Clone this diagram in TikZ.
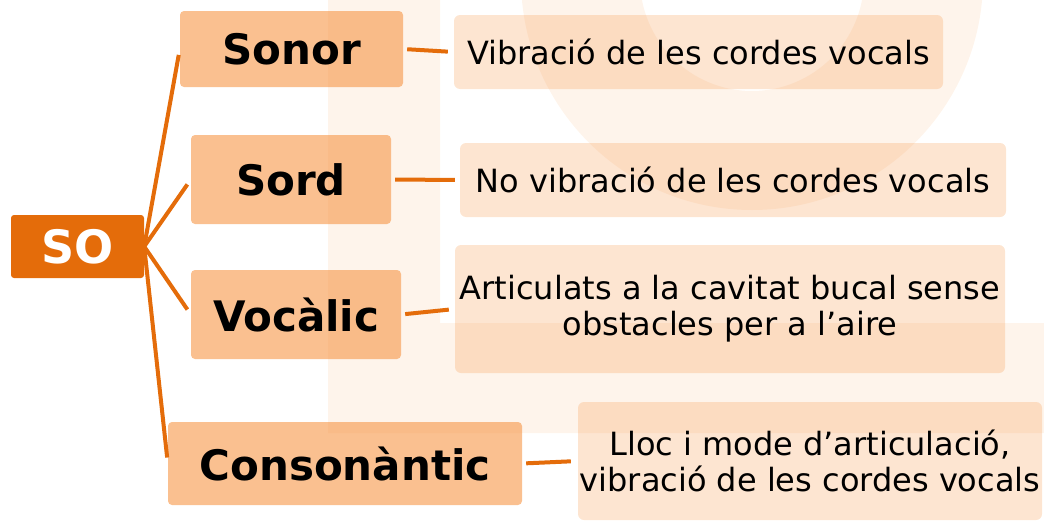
\documentclass[tikz,border=0pt]{standalone}
\usepackage{fontspec}
\setmainfont{DejaVu Sans}
\definecolor{taronja}{HTML}{E46C0A}
\definecolor{pell}{HTML}{F79646}
\tikzset{
  sobox/.style={fill=taronja, rounded corners=3pt, inner sep=0pt, text=white,
    font=\bfseries\fontsize{46}{50}\selectfont},
  tipus/.style={fill=pell, fill opacity=0.6, text opacity=1, rounded corners=4pt,
    inner sep=0pt, font=\bfseries\fontsize{42}{50}\selectfont},
  descr/.style={fill=pell, fill opacity=0.25, text opacity=1, rounded corners=6pt,
    inner sep=0pt, align=center, font=\fontsize{32}{36}\selectfont},
  branca/.style={draw=taronja, line width=4pt}
}
\begin{document}
\begin{tikzpicture}[x=1pt, y=-1pt]
      \useasboundingbox (0,0) rectangle (1044,522);
      \clip (0,0) rectangle (1044,522);

      % Watermark
      \fill[pell!11] (328,0) -- (440,0) -- (440,323) -- (1044,323) -- (1044,433) -- (328,433) -- cycle;
      \fill[pell!11, even odd rule] (752,-21) circle (231) (752,-21) circle (112);

      % Root
      \node[sobox, minimum width=133pt, minimum height=63pt] (so) at (77.5,246.5) {SO};

      % Types
      \node[tipus, minimum width=223pt, minimum height=76pt] (sonor) at (291.5,49) {Sonor};
      \node[tipus, minimum width=200pt, minimum height=89pt] (sord) at (291,179.5) {Sord};
      \node[tipus, minimum width=210pt, minimum height=89pt] (vocalic) at (296,314.5) {Vocàlic};
      \node[tipus, minimum width=354pt, minimum height=83pt] (consonantic) at (345,463.5) {Consonàntic};

      % Descriptions
      \node[descr, minimum width=489pt, minimum height=74pt] (dsonor) at (698.5,52) {Vibració de les cordes vocals};
      \node[descr, minimum width=546pt, minimum height=74pt] (dsord) at (733,180) {No vibració de les cordes vocals};
      \node[descr, minimum width=550pt, minimum height=128pt] (dvocalic) at (730,309) {Articulats a la cavitat bucal sense\\obstacles per a l’aire};
      \node[descr, minimum width=464pt, minimum height=118pt] (dconsonantic) at (810,461) {Lloc i mode d’articulació,\\vibració de les cordes vocals};

      % Branches
      \draw[branca, shorten >=6pt] (so.east) -- (sonor.west);
      \draw[branca, shorten >=6pt] (so.east) -- (sord.west);
      \draw[branca, shorten >=6pt] (so.east) -- (vocalic.west);
      \draw[branca, shorten >=6pt] (so.east) -- (consonantic.west);

      \draw[branca, shorten <=4pt, shorten >=6pt] (sonor.east) -- (dsonor.west);
      \draw[branca, shorten <=4pt, shorten >=5pt] (sord.east) -- (dsord.west);
      \draw[branca, shorten <=4pt, shorten >=6pt] (vocalic.east) -- (dvocalic.west);
      \draw[branca, shorten <=4pt, shorten >=7pt] (consonantic.east) -- (dconsonantic.west);

    \end{tikzpicture}
\end{document}
